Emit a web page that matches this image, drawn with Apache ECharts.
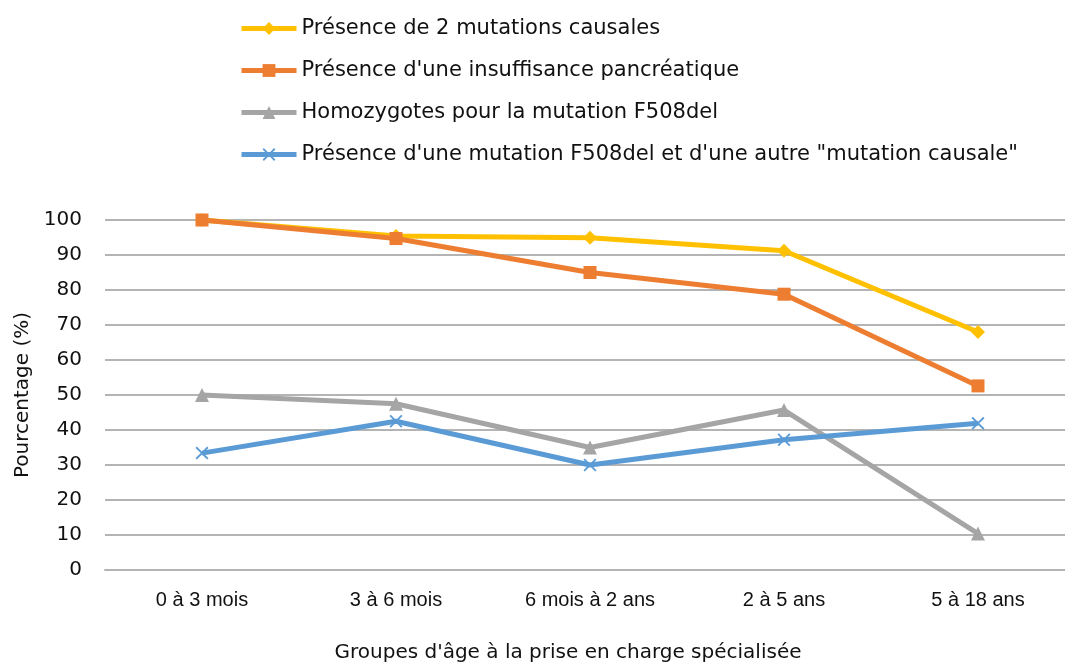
<!DOCTYPE html>
<html>
<head>
<meta charset="utf-8">
<script src="https://cdn.jsdelivr.net/npm/echarts@6/dist/echarts.min.js"></script>
<style>
  html, body { margin: 0; padding: 0; background: #fff; }
  #chart { width: 1065px; height: 662px; }
</style>
</head>
<body>
<div id="chart"></div>
<script>
const categories = ['0 à 3 mois', '3 à 6 mois', '6 mois à 2 ans', '2 à 5 ans', '5 à 18 ans'];
const deuxMutations = [100, 95.4, 94.9, 91.2, 68.0];
const insuffisance = [100, 94.7, 85.0, 78.8, 52.6];
const homozygotes = [50, 47.5, 35.0, 45.7, 10.4];
const f508Autre = [33.4, 42.5, 30.0, 37.2, 41.9];
const seriesNames = [
  'Présence de 2 mutations causales',
  "Présence d'une insuffisance pancréatique",
  'Homozygotes pour la mutation F508del',
  "Présence d'une mutation F508del et d'une autre \"mutation causale\""
];

const font = '"Liberation Sans", Arial, Helvetica, sans-serif';
const wideFont = '"DejaVu Sans", "Liberation Sans", sans-serif';
const crossPath = 'path://M0,1 L1,0 L5,4 L9,0 L10,1 L6,5 L10,9 L9,10 L5,6 L1,10 L0,9 L4,5 Z';

const myChart = echarts.init(document.getElementById('chart'));

const makeLine = (name, data, color, symbol, size) => ({
  name: name,
  type: 'line',
  data: data,
  symbol: symbol,
  symbolSize: size,
  lineStyle: { color: color, width: 5 },
  itemStyle: { color: color },
  animation: false
});

const option = {
  backgroundColor: '#fff',
  textStyle: { fontFamily: font },
  legend: {
    orient: 'vertical',
    left: 239,
    top: 18,
    padding: 0,
    itemWidth: 55,
    itemHeight: 16,
    itemGap: 21,
    lineStyle: { width: 5 },
    textStyle: { fontSize: 21, color: '#111', fontFamily: wideFont }
  },
  grid: { left: 105, top: 220, width: 970, height: 350, outerBoundsMode: 'none', containLabel: false },
  xAxis: {
    type: 'category',
    data: categories,
    boundaryGap: true,
    axisTick: { show: false },
    axisLine: { lineStyle: { color: '#B4B4B4', width: 2 } },
    axisLabel: { fontSize: 20, color: '#111', margin: 20, fontFamily: font },
    name: "Groupes d'âge à la prise en charge spécialisée",
    nameLocation: 'middle',
    nameGap: 73,
    nameTextStyle: { fontSize: 20, color: '#111', fontFamily: wideFont, padding: [0, 44, 0, 0] }
  },
  yAxis: {
    type: 'value',
    min: 0,
    max: 100,
    interval: 10,
    axisLine: { show: false },
    axisTick: { show: false },
    axisLabel: { fontSize: 20, color: '#111', margin: 23, fontFamily: wideFont },
    splitLine: { lineStyle: { color: '#B4B4B4', width: 2 } },
    name: 'Pourcentage (%)',
    nameLocation: 'middle',
    nameGap: 72,
    nameTextStyle: { fontSize: 20, color: '#111', fontFamily: wideFont }
  },
  series: [
    makeLine(seriesNames[0], deuxMutations, '#FFC000', 'diamond', 14),
    makeLine(seriesNames[1], insuffisance, '#ED7D31', 'rect', 13),
    makeLine(seriesNames[2], homozygotes, '#A5A5A5', 'triangle', 14),
    makeLine(seriesNames[3], f508Autre, '#5B9BD5', crossPath, 13)
  ]
};

myChart.setOption(option);
</script>
</body>
</html>
